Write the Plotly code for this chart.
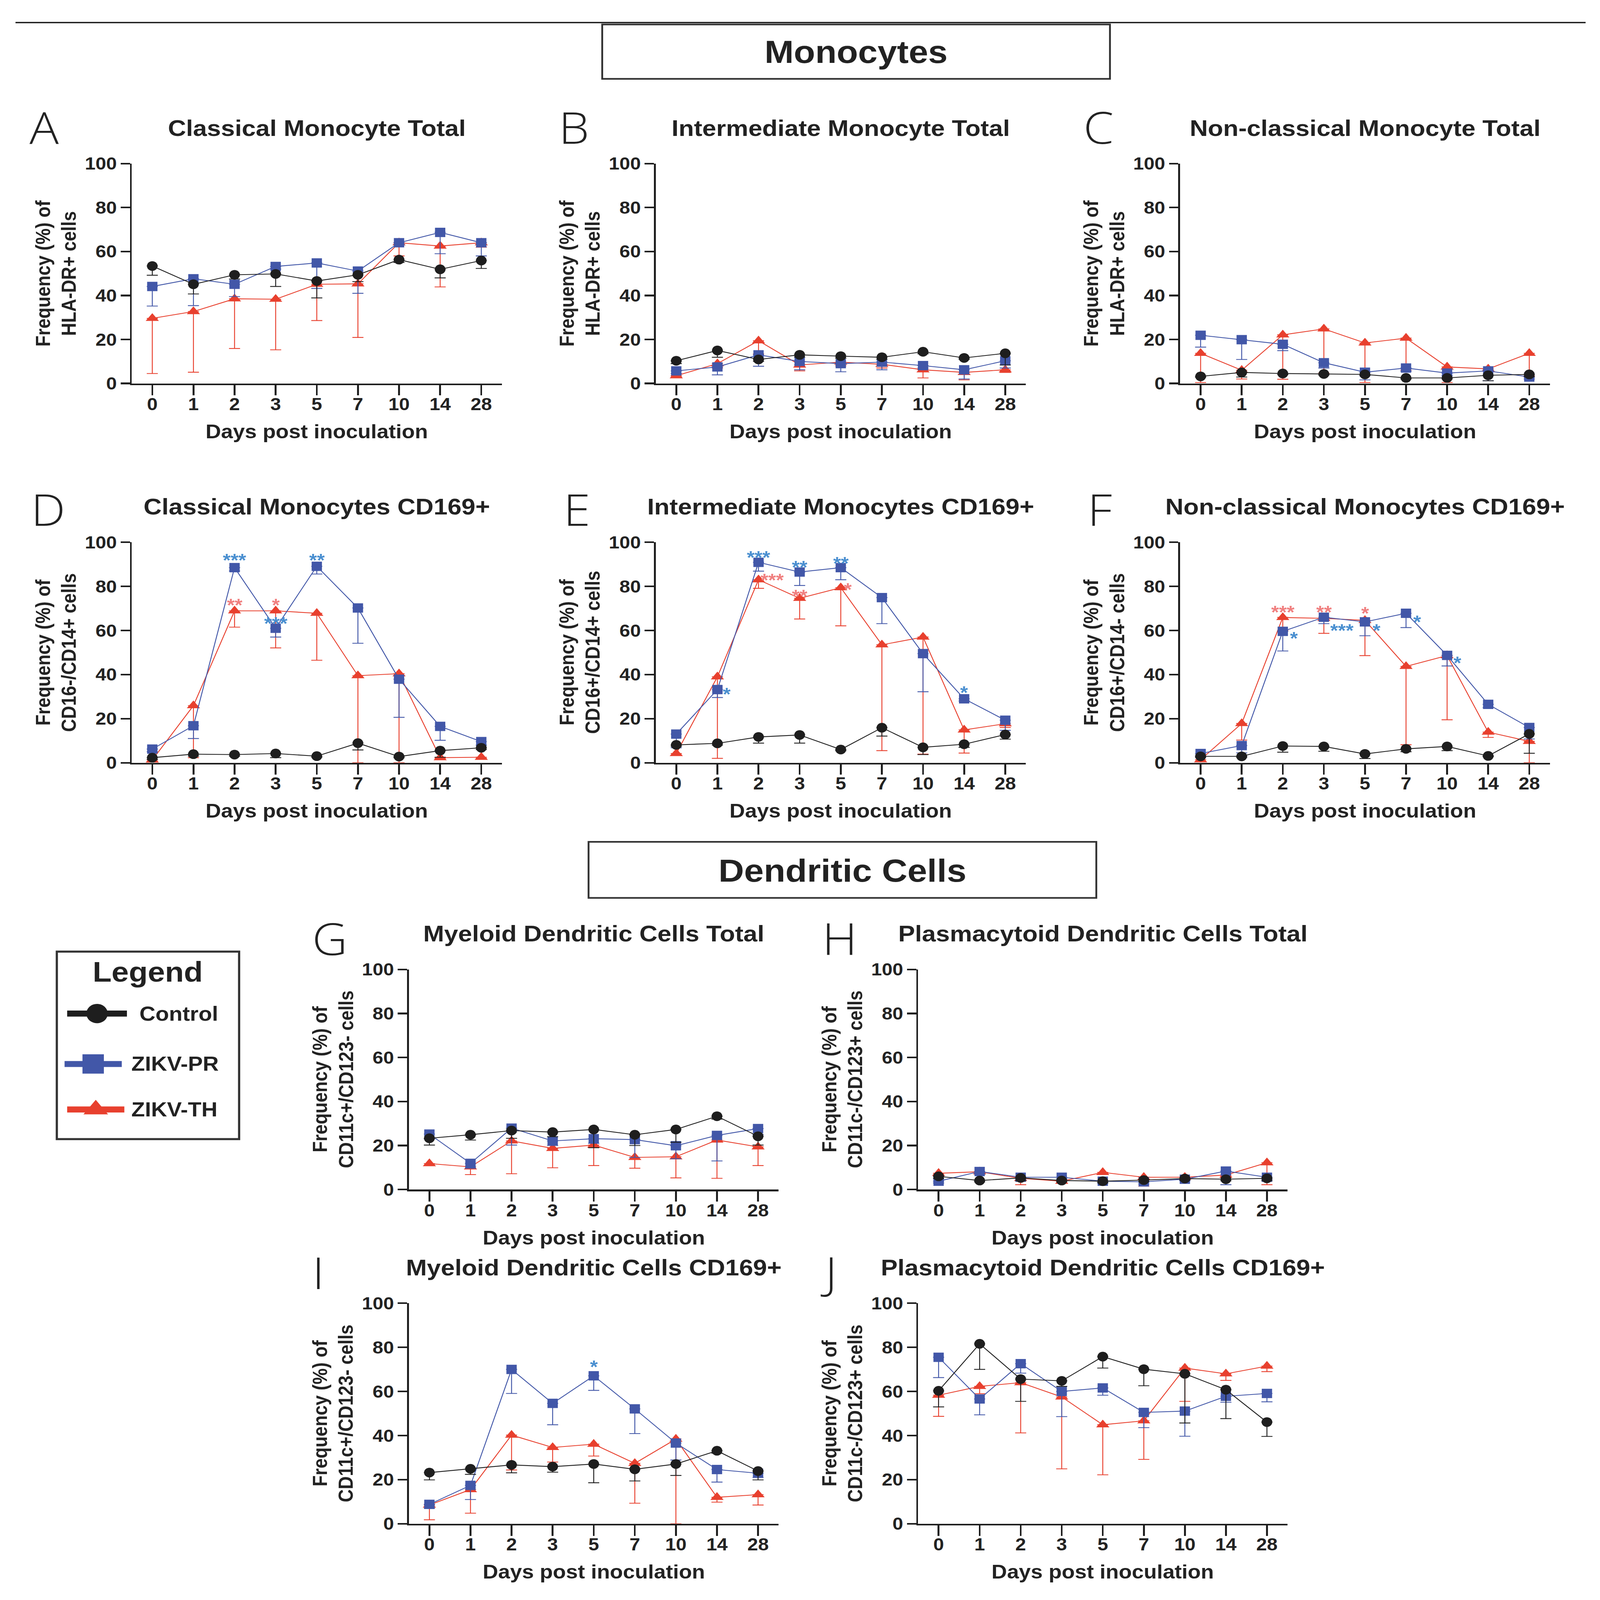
import plotly.graph_objects as go

W, H = 4336, 4796

days = ["0", "1", "2", "3", "5", "7", "10", "14", "28"]

# means and lower error-bar ends
a_ctrl = [53.4, 45.1, 49.4, 49.8, 46.6, 49.4, 56.3, 51.9, 55.9]
a_ctrl_lo = [49.2, 40.7, 47.5, 44.1, 38.9, 46.3, 55.0, 48.0, 52.3]
a_pr = [44.1, 47.6, 45.1, 53.2, 54.8, 51.1, 64.0, 68.7, 64.0]
a_pr_lo = [35.2, 35.4, 39.5, 52.0, 43.2, 41.0, 63.0, 59.0, 58.0]
a_th = [29.6, 32.7, 38.5, 38.3, 45.1, 45.3, 64.0, 62.5, 64.0]
a_th_lo = [4.5, 5.1, 15.9, 15.3, 28.6, 20.9, 58.0, 43.9, 62.0]

b_ctrl = [10.3, 15.0, 10.9, 13.0, 12.4, 11.9, 14.4, 11.6, 13.7]
b_ctrl_lo = [9.0, 11.9, 10.0, 12.0, 11.5, 11.0, 13.5, 11.0, 8.4]
b_pr = [5.7, 7.5, 13.0, 10.0, 9.0, 9.7, 8.1, 6.2, 10.3]
b_pr_lo = [4.5, 3.9, 7.8, 6.2, 5.3, 6.2, 7.0, 2.0, 7.0]
b_th = [3.5, 9.0, 19.4, 8.4, 9.7, 8.7, 6.2, 5.0, 6.2]
b_th_lo = [3.0, 7.0, 13.4, 5.7, 8.0, 7.0, 2.5, 1.6, 5.0]

c_ctrl = [3.2, 5.0, 4.5, 4.3, 4.1, 2.5, 2.5, 3.7, 4.1]
c_ctrl_lo = [2.8, 2.9, 4.0, 3.8, 3.6, 2.0, 2.0, 1.2, 3.0]
c_pr = [21.9, 19.9, 17.8, 9.4, 5.1, 7.0, 4.7, 5.7, 2.9]
c_pr_lo = [16.5, 10.9, 14.9, 7.0, 1.6, 5.5, 3.5, 1.2, 2.0]
c_th = [13.7, 6.0, 22.1, 24.8, 18.4, 20.6, 7.5, 6.6, 13.7]
c_th_lo = [0.4, 2.0, 1.9, 4.7, 0.4, 6.0, 0.4, 6.0, 3.5]

d_ctrl = [2.3, 3.9, 3.7, 4.2, 3.0, 8.9, 2.8, 5.5, 6.8]
d_ctrl_lo = [1.5, 3.0, 3.0, 2.3, 2.5, 5.8, 2.3, 2.5, 6.0]
d_pr = [6.2, 16.8, 88.5, 61.0, 89.1, 70.2, 37.9, 16.5, 9.6]
d_pr_lo = [5.0, 11.0, 87.0, 57.0, 85.6, 54.2, 20.6, 10.2, 8.0]
d_th = [1.3, 25.9, 68.9, 68.9, 67.8, 39.5, 40.4, 2.3, 2.5]
d_th_lo = [0.5, 2.3, 61.5, 52.1, 46.5, 0.0, 0.0, 2.0, 2.0]

e_ctrl = [8.1, 8.8, 11.7, 12.6, 6.0, 15.9, 7.0, 8.4, 12.8]
e_ctrl_lo = [7.5, 8.0, 8.9, 8.9, 5.5, 12.1, 3.7, 7.0, 10.7]
e_pr = [13.0, 33.2, 90.9, 86.5, 88.5, 74.9, 49.5, 29.0, 19.3]
e_pr_lo = [6.8, 29.6, 86.9, 80.4, 83.0, 63.1, 32.2, 28.0, 14.7]
e_th = [4.2, 39.0, 83.0, 74.6, 79.4, 53.5, 57.0, 14.9, 17.7]
e_th_lo = [3.5, 2.0, 79.1, 65.2, 62.1, 5.5, 3.9, 4.4, 16.0]

f_ctrl = [2.9, 2.9, 7.6, 7.4, 4.0, 6.3, 7.4, 3.1, 13.1]
f_ctrl_lo = [2.5, 2.5, 4.8, 5.2, 1.9, 5.0, 5.5, 2.8, 4.3]
f_pr = [4.2, 7.8, 59.6, 66.0, 63.9, 67.8, 48.7, 26.5, 16.0]
f_pr_lo = [3.0, 4.5, 50.7, 63.1, 57.6, 61.3, 43.9, 25.0, 10.8]
f_th = [1.4, 17.8, 65.9, 65.5, 64.6, 43.7, 48.6, 13.9, 9.7]
f_th_lo = [0.5, 10.3, 60.0, 58.7, 48.6, 8.2, 19.5, 11.5, 0.0]

g_ctrl = [23.3, 24.9, 26.8, 26.1, 27.3, 24.9, 27.3, 33.3, 24.2]
g_ctrl_lo = [20.2, 22.5, 23.3, 24.0, 19.0, 20.0, 21.5, 32.0, 20.2]
g_pr = [25.2, 11.9, 27.9, 22.1, 23.1, 22.7, 19.9, 24.6, 27.7]
g_pr_lo = [23.0, 9.7, 20.2, 20.0, 21.0, 14.6, 14.0, 13.0, 25.0]
g_th = [11.8, 10.3, 22.1, 18.7, 20.2, 14.6, 14.9, 22.5, 19.4]
g_th_lo = [11.0, 6.8, 7.2, 9.9, 10.9, 9.7, 5.3, 5.1, 10.9]

h_ctrl = [6.0, 4.1, 5.3, 4.1, 3.8, 4.3, 5.0, 4.7, 5.1]
h_ctrl_lo = [5.0, 3.5, 4.0, 3.5, 3.2, 3.5, 4.3, 4.0, 4.0]
h_pr = [3.8, 8.2, 5.6, 5.6, 3.8, 3.5, 4.7, 8.4, 5.6]
h_pr_lo = [3.0, 7.0, 4.5, 4.8, 3.0, 2.5, 4.0, 2.2, 4.5]
h_th = [7.4, 8.1, 5.1, 3.8, 7.8, 5.6, 5.6, 6.6, 12.2]
h_th_lo = [6.5, 7.2, 2.2, 3.0, 6.8, 1.6, 4.8, 5.5, 2.2]

i_ctrl = [23.2, 24.9, 26.7, 25.9, 27.1, 24.7, 27.1, 33.1, 23.9]
i_ctrl_lo = [19.9, 22.4, 23.1, 23.4, 18.6, 19.4, 21.9, 32.0, 19.9]
i_pr = [8.8, 17.4, 70.0, 54.6, 67.1, 52.1, 36.6, 24.6, 22.9]
i_pr_lo = [7.0, 11.0, 59.1, 44.9, 60.5, 40.9, 28.9, 18.9, 21.0]
i_th = [8.5, 15.5, 40.2, 34.6, 36.1, 27.4, 38.4, 12.0, 13.2]
i_th_lo = [1.8, 4.8, 24.4, 28.0, 30.7, 9.3, 0.0, 9.8, 8.5]

j_ctrl = [60.3, 81.6, 65.6, 64.8, 75.8, 70.1, 68.0, 60.8, 46.1]
j_ctrl_lo = [53.0, 70.0, 55.5, 62.3, 70.6, 62.6, 45.7, 47.7, 39.6]
j_pr = [75.5, 56.6, 72.6, 60.0, 61.6, 50.5, 51.1, 57.8, 59.1]
j_pr_lo = [66.3, 49.4, 68.3, 48.6, 58.3, 43.6, 39.7, 55.1, 55.3]
j_th = [58.3, 62.3, 64.0, 57.5, 44.9, 46.7, 70.6, 68.0, 71.5]
j_th_lo = [48.7, 59.0, 41.2, 24.9, 22.2, 29.2, 55.5, 65.0, 69.0]

# significance marks: panel, day index, nudge right, height, text, group
stars = [
    ("D", 2, 0, 94.0, "***", "pr"), ("D", 4, 0, 94.0, "**", "pr"),
    ("D", 2, 0, 73.6, "**", "th"), ("D", 3, 0, 73.6, "*", "th"),
    ("D", 3, 0, 65.2, "***", "pr"),
    ("E", 2, 0, 95.3, "***", "pr"), ("E", 3, 0, 90.9, "**", "pr"),
    ("E", 4, 0, 92.6, "**", "pr"), ("E", 2, 0.33, 84.9, "***", "th"),
    ("E", 3, 0, 77.8, "**", "th"), ("E", 4, 0.17, 80.7, "*", "th"),
    ("E", 1, 0.23, 33.2, "*", "pr"), ("E", 7, 0, 34.0, "*", "pr"),
    ("F", 2, 0, 70.6, "***", "th"), ("F", 3, 0, 70.6, "**", "th"),
    ("F", 4, 0, 69.9, "*", "th"), ("F", 2, 0.27, 58.6, "*", "pr"),
    ("F", 3, 0.44, 62.3, "***", "pr"), ("F", 4, 0.28, 62.3, "*", "pr"),
    ("F", 5, 0.27, 66.0, "*", "pr"), ("F", 6, 0.25, 47.4, "*", "pr"),
    ("I", 4, 0, 73.3, "*", "pr"),
]

groups = {
    "ctrl": dict(name="Control", color="#1e1e1e", symbol="circle", size=29),
    "pr": dict(name="ZIKV-PR", color="#4257a8", symbol="square", size=28),
    "th": dict(name="ZIKV-TH", color="#e8402e", symbol="triangle-up", size=31),
}
star_colors = {"pr": "#4a8fd0", "th": "#f08080"}

cols = [(357, 1360), (1777, 2780), (3198, 4200), (1108, 2110), (2488, 3489)]
rows = [(467, 1134), (1616, 2285), (2912, 3580), (3925, 4594)]

panels = [
    ("A", "Classical Monocyte Total", "HLA-DR+ cells", 0, 0, (120, 355),
     a_ctrl, a_ctrl_lo, a_pr, a_pr_lo, a_th, a_th_lo),
    ("B", "Intermediate Monocyte Total", "HLA-DR+ cells", 1, 0, (1555, 355),
     b_ctrl, b_ctrl_lo, b_pr, b_pr_lo, b_th, b_th_lo),
    ("C", "Non-classical Monocyte Total", "HLA-DR+ cells", 2, 0, (2977, 355),
     c_ctrl, c_ctrl_lo, c_pr, c_pr_lo, c_th, c_th_lo),
    ("D", "Classical Monocytes CD169+", "CD16-/CD14+ cells", 0, 1, (130, 1514),
     d_ctrl, d_ctrl_lo, d_pr, d_pr_lo, d_th, d_th_lo),
    ("E", "Intermediate Monocytes CD169+", "CD16+/CD14+ cells", 1, 1, (1563, 1514),
     e_ctrl, e_ctrl_lo, e_pr, e_pr_lo, e_th, e_th_lo),
    ("F", "Non-classical Monocytes CD169+", "CD16+/CD14- cells", 2, 1, (2980, 1514),
     f_ctrl, f_ctrl_lo, f_pr, f_pr_lo, f_th, f_th_lo),
    ("G", "Myeloid Dendritic Cells Total", "CD11c+/CD123- cells", 3, 2, (893, 2817),
     g_ctrl, g_ctrl_lo, g_pr, g_pr_lo, g_th, g_th_lo),
    ("H", "Plasmacytoid Dendritic Cells Total", "CD11c-/CD123+ cells", 4, 2, (2275, 2817),
     h_ctrl, h_ctrl_lo, h_pr, h_pr_lo, h_th, h_th_lo),
    ("I", "Myeloid Dendritic Cells CD169+", "CD11c+/CD123- cells", 3, 3, (862, 3830),
     i_ctrl, i_ctrl_lo, i_pr, i_pr_lo, i_th, i_th_lo),
    ("J", "Plasmacytoid Dendritic Cells CD169+", "CD11c-/CD123+ cells", 4, 3, (2246, 3830),
     j_ctrl, j_ctrl_lo, j_pr, j_pr_lo, j_th, j_th_lo),
]

BOLD = dict(family="Liberation Sans, Arial, sans-serif", color="#222222", weight="bold")
INK = "#1e1e1e"


def px(x):
    return x / W


def py(y):
    return 1 - y / H


def note(x, y, text, size, font=None, **kw):
    f = dict(BOLD if font is None else font)
    f["size"] = size
    d = dict(x=px(x), y=py(y), xref="paper", yref="paper", text=text,
             showarrow=False, font=f, xanchor="center", yanchor="middle")
    d.update(kw)
    return d


fig = go.Figure()
annotations = []
shapes = []
layout = {}
axis_ids = {}

for k, (letter, title, ylab, ci, ri, lpos, *series) in enumerate(panels):
    n = "" if k == 0 else str(k + 1)
    axis_ids[letter] = n
    x0, x1 = cols[ci]
    yt, yb = rows[ri]
    layout["xaxis" + n] = dict(
        domain=[px(x0), px(x1)], anchor="y" + n, range=[-0.5, 8.5],
        tickmode="array", tickvals=list(range(len(days))), ticktext=days,
        ticks="outside", ticklen=31, tickwidth=5, tickcolor=INK,
        showline=True, linewidth=5, linecolor=INK, showgrid=False, zeroline=False,
        tickfont=dict(BOLD, size=52), ticklabelstandoff=-18, fixedrange=True,
    )
    layout["yaxis" + n] = dict(
        domain=[py(yb), py(yt)], anchor="x" + n, range=[0, 100],
        tickmode="linear", tick0=0, dtick=20,
        ticks="outside", ticklen=25, tickwidth=5, tickcolor=INK,
        showline=True, linewidth=5, linecolor=INK, showgrid=False, zeroline=False,
        tickfont=dict(BOLD, size=52), fixedrange=True,
    )
    xc = (x0 + x1) / 2
    annotations.append(note(xc, yt - 109, title, 68))
    annotations.append(note(lpos[0], lpos[1], letter, 132,
                            font=dict(family="Open Sans, sans-serif", color="#222222", weight=300)))
    annotations.append(note(xc, yb + 146, "Days post inoculation", 58))
    annotations.append(note(x0 - 206, (yt + yb) / 2, "Frequency (%) of<br>" + ylab, 54,
                            textangle=-90))

    vals = dict(ctrl=series[0:2], pr=series[2:4], th=series[4:6])
    for g in ["th", "pr", "ctrl"]:
        mean, lo = vals[g]
        st = groups[g]
        fig.add_trace(go.Scatter(
            x=list(range(len(days))), y=mean, mode="lines+markers",
            xaxis="x" + n, yaxis="y" + n, cliponaxis=False, showlegend=False,
            name=st["name"],
            line=dict(color=st["color"], width=2.5),
            marker=dict(color=st["color"], symbol=st["symbol"], size=st["size"],
                        opacity=1, line=dict(width=0)),
            error_y=dict(type="data", symmetric=False, array=[0] * len(days),
                         arrayminus=[m - l for m, l in zip(mean, lo)],
                         color=st["color"], thickness=2.5, width=15),
        ))

for letter, idx, dx, yv, txt, g in stars:
    n = axis_ids[letter]
    annotations.append(dict(
        x=idx + dx, y=yv, xref="x" + n, yref="y" + n, text=txt, showarrow=False,
        font=dict(family="Liberation Sans, Arial, sans-serif", size=54,
                  color=star_colors[g], weight="bold"),
        xanchor="center", yanchor="middle", yshift=-14,
    ))

# section headers
shapes.append(dict(type="line", xref="paper", yref="paper",
                   x0=px(42), x1=px(4297), y0=py(39), y1=py(39),
                   line=dict(color=INK, width=4)))
shapes.append(dict(type="rect", xref="paper", yref="paper",
                   x0=px(1632), x1=px(3008), y0=py(210), y1=py(45),
                   line=dict(color="#333333", width=5)))
annotations.append(note(2320, 128, "Monocytes", 95))
shapes.append(dict(type="rect", xref="paper", yref="paper",
                   x0=px(1595), x1=px(2971), y0=py(2695), y1=py(2525),
                   line=dict(color="#333333", width=5)))
annotations.append(note(2283, 2612, "Dendritic Cells", 96))

# legend box, drawn on a hidden pixel-scaled axis
lx0, lx1, ly0, ly1 = 154, 648, 2858, 3427
shapes.append(dict(type="rect", xref="paper", yref="paper",
                   x0=px(lx0), x1=px(lx1), y0=py(ly1), y1=py(ly0),
                   line=dict(color="#333333", width=6)))
layout["xaxis11"] = dict(domain=[px(lx0), px(lx1)], range=[lx0, lx1], anchor="y11",
                         visible=False, fixedrange=True)
layout["yaxis11"] = dict(domain=[py(ly1), py(ly0)], range=[ly1, ly0], anchor="x11",
                         visible=False, fixedrange=True)
annotations.append(note(400, 2919, "Legend", 84))
legend_rows = [("ctrl", 182, 344, 3046, 376), ("pr", 175, 330, 3199, 354),
               ("th", 182, 337, 3337, 354)]
for g, a, b, yy, tx in legend_rows:
    st = groups[g]
    fig.add_trace(go.Scatter(
        x=[a, (a + b) / 2, b], y=[yy, yy, yy], mode="lines+markers",
        xaxis="x11", yaxis="y11", showlegend=False, cliponaxis=False, hoverinfo="skip",
        line=dict(color=st["color"], width=18),
        marker=dict(color=st["color"], symbol=st["symbol"], size=[0, 58, 0],
                    opacity=1, line=dict(width=0)),
    ))
    annotations.append(note(tx, yy, st["name"], 60, xanchor="left"))

fig.update_layout(
    width=W, height=H, margin=dict(l=0, r=0, t=0, b=0),
    paper_bgcolor="white", plot_bgcolor="white",
    showlegend=False, annotations=annotations, shapes=shapes, **layout,
)

# if the browser viewport comes out smaller than the figure, shrink it to fit
fit_js = """
var gd = document.getElementById('{plot_id}');
document.documentElement.style.overflow = 'hidden';
document.body.style.margin = '0';
document.body.style.overflow = 'hidden';
gd.style.position = 'absolute';
gd.style.left = '0px';
gd.style.top = '0px';
var vw = document.documentElement.clientWidth || window.innerWidth;
var vh = document.documentElement.clientHeight || window.innerHeight;
var sx = Math.min(1, vw / %d);
var sy = Math.min(1, vh / %d);
gd.style.transformOrigin = '0 0';
gd.style.transform = 'scale(' + sx + ',' + sy + ')';
""" % (W, H)

fig.write_html("out.html", post_script=fit_js, config={"displayModeBar": False})
